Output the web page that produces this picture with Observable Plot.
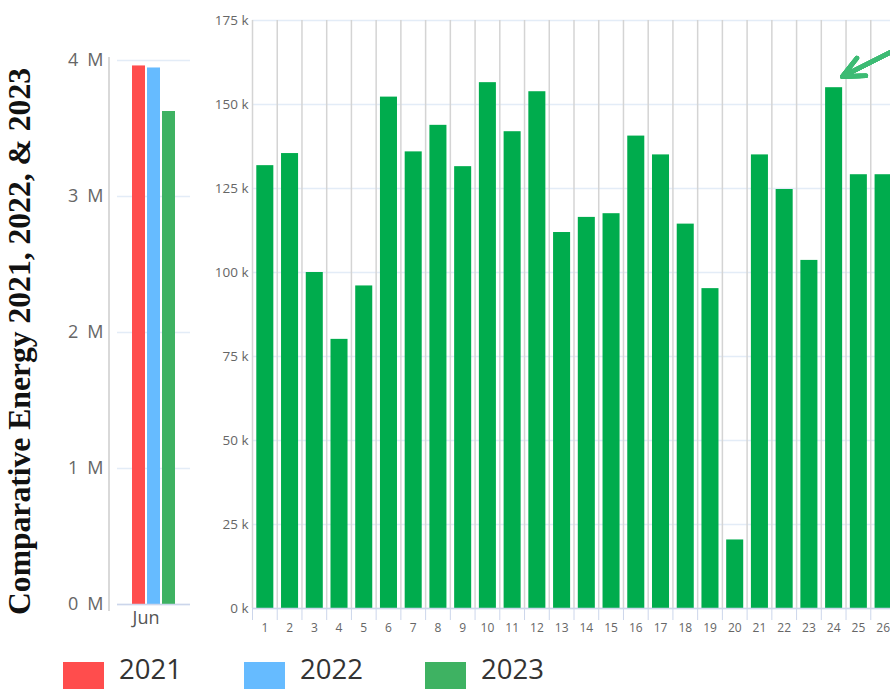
<!DOCTYPE html>
<html><head><meta charset="utf-8">
<script src="https://cdn.jsdelivr.net/npm/d3@7"></script>
<script src="https://cdn.jsdelivr.net/npm/@observablehq/plot@0.6"></script>
<style>
html,body{margin:0;padding:0;background:#fff;overflow:hidden;}
#wrap{position:relative;width:890px;height:689px;overflow:hidden;font-family:"Open Sans",sans-serif;}
#wrap > *{position:absolute;left:0;top:0;}
#legend{top:656px !important;left:63px !important;display:flex;}
.item{display:flex;align-items:flex-start;width:181px;}
.sw{width:41px;height:41px;margin-top:6px;margin-right:15px;}
.lbl{font-size:27.5px;color:#333;line-height:26px;margin-top:0px;}
</style>
</head><body>
<div id="wrap">
  <svg id="title" width="60" height="689">
    <text transform="translate(30,341.5) rotate(-90)" text-anchor="middle" font-family="Liberation Serif" font-weight="bold" font-size="31" fill="#111" textLength="547" lengthAdjust="spacingAndGlyphs">Comparative Energy 2021, 2022, &amp; 2023</text>
  </svg>
  <div id="legend"></div>
</div>
<script>
// ---- data ----
const years = ["2021", "2022", "2023"];
const yearColors = ["#ff4d4d", "#66bbff", "#3eb262"];
const month = "Jun";
const juneTotals = [3960000, 3945000, 3625000];
const leftTicks = [0, 1000000, 2000000, 3000000, 4000000];

const days = [1,2,3,4,5,6,7,8,9,10,11,12,13,14,15,16,17,18,19,20,21,22,23,24,25,26];
const dailyEnergy = [131800, 135400, 100000, 80100, 96000, 152200, 135900, 143800, 131500, 156500,
                     141900, 153800, 111900, 116400, 117500, 140600, 135000, 114400, 95200, 20400,
                     135000, 124700, 103600, 155000, 129100, 129100];
const rightTicks = [0, 25000, 50000, 75000, 100000, 125000, 150000, 175000];
const arrowNote = [{x1: 26.9, y1: 167800, x2: 24.35, y2: 158300}];

// ---- left chart ----
const leftData = years.map((y, i) => ({year: y, month, value: juneTotals[i]}));
const leftAxisLine = (index, scales, values, dims) => {
  const x = dims.marginLeft - 8;
  return d3.create("svg:line")
    .attr("x1", x).attr("x2", x)
    .attr("y1", dims.marginTop - 3).attr("y2", dims.height - dims.marginBottom + 7)
    .attr("stroke", "#cccccc").attr("stroke-width", 1.5).node();
};
const left = Plot.plot({
  width: 200, height: 640,
  marginLeft: 117, marginRight: 10, marginTop: 60, marginBottom: 36,
  style: {background: "transparent", fontFamily: "Open Sans", maxWidth: "none", overflow: "visible"},
  fx: {domain: [month], padding: 0, label: null, axis: null},
  x: {domain: years, paddingInner: 0.16, paddingOuter: 1.0, axis: null},
  y: {domain: [0, 4000000], axis: null},
  color: {domain: years, range: yearColors},
  marks: [
    Plot.gridY(leftTicks, {stroke: "#e3ecf7", strokeOpacity: 1, strokeWidth: 1.5}),
    Plot.barY(leftData, {fx: "month", x: "year", y: "value", fill: "year"}),
    Plot.ruleY([0], {stroke: "#ccd6eb", strokeWidth: 1.5}),
    Plot.axisY(leftTicks, {anchor: "left", tickSize: 0, tickPadding: 14, tickFormat: d => d / 1e6 + "\u2002M", fontSize: 18, fill: "#666", label: null}),
    Plot.axisFx({anchor: "bottom", tickSize: 0, tickPadding: 7, fontSize: 18, fill: "#555", label: null, dx: -8}),
    leftAxisLine
  ]
});

// ---- right chart ----
const dailyData = days.map((d, i) => ({day: d, value: dailyEnergy[i]}));
const bounds = [...days.map(d => d - 0.5), days[days.length - 1] + 0.5];
const arrowStyle = {x1: "x1", y1: "y1", x2: "x2", y2: "y2", stroke: "#3dbb74", strokeWidth: 4.5, headAngle: 50};
const headSizes = [18, 15, 12, 9, 6, 3];
const right = Plot.plot({
  width: 920, height: 640,
  marginLeft: 252, marginRight: 25, marginTop: 20, marginBottom: 32,
  style: {background: "transparent", fontFamily: "Open Sans", maxWidth: "none", overflow: "visible"},
  x: {domain: [0.5, 26.5], axis: null},
  y: {domain: [0, 175000], axis: null},
  marks: [
    Plot.gridY(rightTicks, {stroke: "#e3ecf7", strokeOpacity: 1, strokeWidth: 1.5}),
    Plot.gridX(bounds, {stroke: "#d4d4d4", strokeOpacity: 1, strokeWidth: 1.5}),
    Plot.rectY(dailyData, {x1: d => d.day - 0.5, x2: d => d.day + 0.5, y: "value", insetLeft: 4.3, insetRight: 3.4, fill: "#00ac4d"}),
    Plot.ruleY([0], {stroke: "#ccd6eb", strokeWidth: 1.5}),
    Plot.axisX(bounds, {tickSize: 12, tickFormat: () => "", stroke: "#ccd6eb", label: null}),
    Plot.axisX(days, {tickSize: 0, tickPadding: 15, fontSize: 12, fill: "#666", label: null}),
    Plot.axisY(rightTicks, {tickSize: 0, tickPadding: 4, tickFormat: d => d / 1000 + " k", fontSize: 13.5, fill: "#666", label: null}),
    ...headSizes.map(h => Plot.arrow(arrowNote, {...arrowStyle, headLength: h}))
  ]
});

const wrap = document.getElementById("wrap");
wrap.insertBefore(left, document.getElementById("legend"));
wrap.insertBefore(right, document.getElementById("legend"));

// ---- legend ----
const legend = d3.select("#legend");
years.forEach((y, i) => {
  const it = legend.append("div").attr("class", "item");
  it.append("div").attr("class", "sw").style("background", yearColors[i]);
  it.append("div").attr("class", "lbl").text(y);
});
</script>
</body></html>
